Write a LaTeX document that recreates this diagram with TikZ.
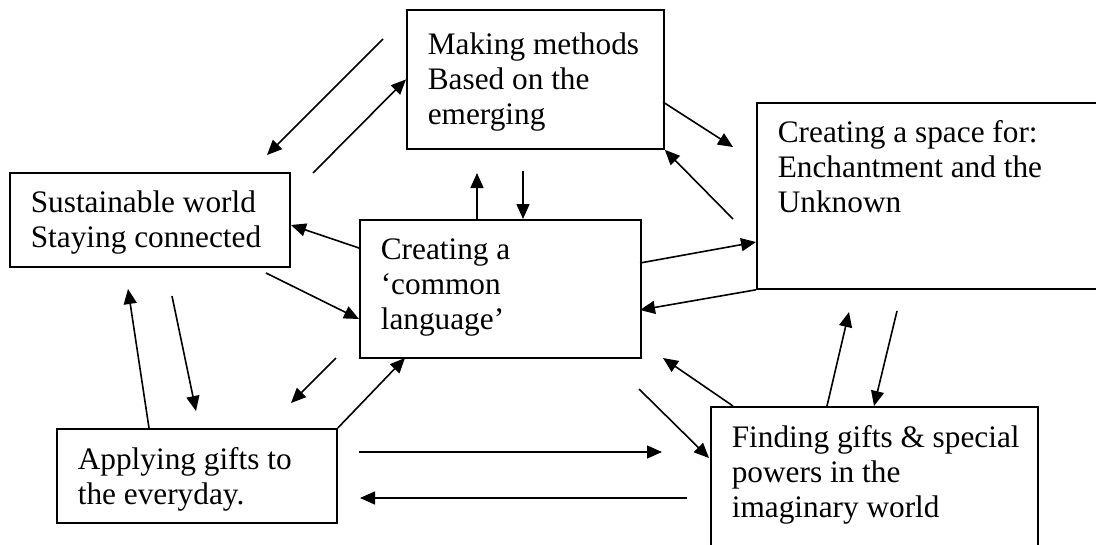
\documentclass[tikz,border=0pt]{standalone}
\usepackage{fontspec}
\setmainfont{Liberation Serif}
\usetikzlibrary{arrows.meta}

\begin{document}
\begin{tikzpicture}[x = 1pt, y = -1pt, line width = 1.6pt,
                    box/.style = {draw, line width = 1.8pt, anchor = north west, inner sep = 0pt},
                    txt/.style = {anchor = north west, inner sep = 0pt, align = left,
                                  font = \fontsize{31.3}{35.3}\selectfont},
                    arr/.style = {-{Triangle[length = 15pt, width = 13pt]}}]
  \useasboundingbox (0,0) rectangle (1096,544);
  % boxes
  \node [box, minimum width = 257pt, minimum height = 139pt] (Mk) at (406,9) {};
  \node [box, minimum width = 360pt, minimum height = 186pt] (Sp) at (756,102) {};
  \node [box, minimum width = 280pt, minimum height = 94pt]  (Sw) at (9,172) {};
  \node [box, minimum width = 281pt, minimum height = 138pt] (Cl) at (359,219) {};
  \node [box, minimum width = 280pt, minimum height = 94pt]  (Ap) at (56,428) {};
  \node [box, minimum width = 327pt, minimum height = 160pt] (Fg) at (710,406) {};
  % texts
  \node [txt] (MkT) at ([shift = {(21,22.8)}]Mk.north west) {Making methods\\Based on the\\emerging};
  \node [txt] (SpT) at ([shift = {(21,17.5)}]Sp.north west) {Creating a space for:\\Enchantment and the\\Unknown};
  \node [txt] (SwT) at ([shift = {(21,17.5)}]Sw.north west) {Sustainable world\\Staying connected};
  \node [txt] (ClT) at ([shift = {(21,18.5)}]Cl.north west) {Creating a\\‘common\\language’};
  \node [txt] (ApT) at ([shift = {(21,18.3)}]Ap.north west) {Applying gifts to\\the everyday.};
  \node [txt] (FgT) at ([shift = {(21,18.3)}]Fg.north west) {Finding gifts \& special\\powers in the\\imaginary world};

  % free ends of the arrows
  \coordinate (p1)  at (383,39);
  \coordinate (p2)  at (267,155);
  \coordinate (p3)  at (313,173);
  \coordinate (p4)  at (663,102);
  \coordinate (p5)  at (733,147);
  \coordinate (p6)  at (733,219);
  \coordinate (p7)  at (477,219);
  \coordinate (p8)  at (477,173);
  \coordinate (p9)  at (523,171);
  \coordinate (p10) at (523,219);
  \coordinate (p11) at (359,248);
  \coordinate (p12) at (291,225);
  \coordinate (p13) at (266,273);
  \coordinate (p14) at (359,319);
  \coordinate (p15) at (640,263);
  \coordinate (p16) at (756,242);
  \coordinate (p17) at (640,310);
  \coordinate (p18) at (149,428);
  \coordinate (p19) at (128,289);
  \coordinate (p20) at (172,296);
  \coordinate (p21) at (196,411);
  \coordinate (p22) at (336,358);
  \coordinate (p23) at (291,403);
  \coordinate (p24) at (405,358);
  \coordinate (p25) at (359,452);
  \coordinate (p26) at (662,452);
  \coordinate (p27) at (687,498);
  \coordinate (p28) at (360,498);
  \coordinate (p29) at (733,406);
  \coordinate (p30) at (663,358);
  \coordinate (p31) at (639,389);
  \coordinate (p32) at (709,458);
  \coordinate (p33) at (827,406);
  \coordinate (p34) at (849,312);
  \coordinate (p35) at (897,311);
  \coordinate (p36) at (874,406);

  % around the top box
  \draw [arr] (p1)--(p2);
  \draw [arr] (p3)--(Mk.west);
  \draw [arr] (p4)--(p5);
  \draw [arr] (p6)--(Mk.south east);
  \draw [arr] (p7)--(p8);
  \draw [arr] (p9)--(p10);

  % around the middle box
  \draw [arr] (p11)--(p12);
  \draw [arr] (p13)--(p14);
  \draw [arr] (p15)--(p16);
  \draw [arr] (Sp.south west)--(p17);

  % lower left
  \draw [arr] (p18)--(p19);
  \draw [arr] (p20)--(p21);
  \draw [arr] (p22)--(p23);
  \draw [arr] (Ap.north east)--(p24);
  \draw [arr] (p25)--(p26);
  \draw [arr] (p27)--(p28);

  % lower right
  \draw [arr] (p29)--(p30);
  \draw [arr] (p31)--(p32);
  \draw [arr] (p33)--(p34);
  \draw [arr] (p35)--(p36);
\end{tikzpicture}
\end{document}
